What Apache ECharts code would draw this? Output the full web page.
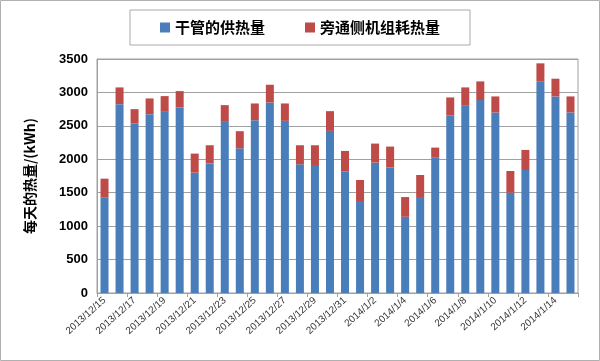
<!DOCTYPE html>
<html>
<head>
<meta charset="utf-8">
<script src="https://cdn.jsdelivr.net/npm/echarts@6/dist/echarts.min.js"></script>
<style>html,body{margin:0;padding:0;background:#fff}#c{width:600px;height:361px}</style>
</head>
<body>
<div id="c"></div>
<script>
const categories = ['2013/12/15','2013/12/16','2013/12/17','2013/12/18','2013/12/19','2013/12/20','2013/12/21','2013/12/22','2013/12/23','2013/12/24','2013/12/25','2013/12/26','2013/12/27','2013/12/28','2013/12/29','2013/12/30','2013/12/31','2014/1/1','2014/1/2','2014/1/3','2014/1/4','2014/1/5','2014/1/6','2014/1/7','2014/1/8','2014/1/9','2014/1/10','2014/1/11','2014/1/12','2014/1/13','2014/1/14','2014/1/15'];
const mainHeat = [1425,2825,2535,2675,2710,2775,1800,1935,2560,2165,2585,2850,2575,1925,1900,2425,1815,1375,1950,1875,1140,1435,2025,2660,2800,2885,2700,1500,1840,3160,2940,2700];
const totalHeat = [1710,3075,2750,2910,2945,3020,2085,2210,2810,2420,2835,3115,2835,2210,2210,2720,2125,1690,2235,2190,1435,1765,2175,2925,3075,3165,2940,1825,2140,3435,3205,2940];
const bypassHeat = totalHeat.map((t,i)=>t-mainHeat[i]);
const seriesNames = ['干管的供热量','旁通侧机组耗热量'];
const yTicks = {min:0,max:3500,interval:500};
const yName = '每天的热量/(kWh)';

const chart = echarts.init(document.getElementById('c'));
chart.setOption({
  animation:false,
  backgroundColor:'#fff',
  graphic:[{type:'rect',shape:{x:0.5,y:0.5,width:599,height:360},style:{fill:'none',stroke:'#b0b0b0',lineWidth:1}}],
  legend:{
    top:10,left:'center',
    data:seriesNames,
    borderColor:'#aaa',borderWidth:1,
    padding:[10,30],
    itemWidth:10,itemHeight:10,itemGap:40,
    icon:'rect',
    textStyle:{fontFamily:'Noto Sans CJK SC',fontWeight:'bold',fontSize:15,color:'#000'}
  },
  grid:{left:97,right:22,top:59,bottom:68,show:true,borderColor:'#a0a0a0',borderWidth:1},
  xAxis:{
    type:'category',data:categories,boundaryGap:true,
    axisLine:{lineStyle:{color:'#a0a0a0'}},
    axisTick:{show:true,interval:1,length:4,lineStyle:{color:'#a0a0a0'}},
    axisLabel:{interval:1,rotate:42,fontSize:10,color:'#333',fontFamily:'Liberation Sans',margin:6}
  },
  yAxis:{
    type:'value',min:yTicks.min,max:yTicks.max,interval:yTicks.interval,
    name:yName,nameLocation:'middle',nameGap:60,nameRotate:90,
    nameTextStyle:{fontFamily:'Noto Sans CJK SC',fontWeight:'bold',fontSize:14,color:'#000'},
    axisLine:{show:true,lineStyle:{color:'#a0a0a0'}},
    axisTick:{show:false},
    axisLabel:{fontFamily:'Liberation Sans',fontWeight:'bold',fontSize:13,color:'#000',margin:9,formatter:v=>String(v)},
    splitLine:{lineStyle:{color:'#a0a0a0'}}
  },
  series:[
    {name:seriesNames[0],type:'bar',stack:'t',data:mainHeat,barWidth:8,itemStyle:{color:'#4A7EBB'}},
    {name:seriesNames[1],type:'bar',stack:'t',data:bypassHeat,barWidth:8,itemStyle:{color:'#BE4B48'}}
  ]
});
</script>
</body>
</html>
